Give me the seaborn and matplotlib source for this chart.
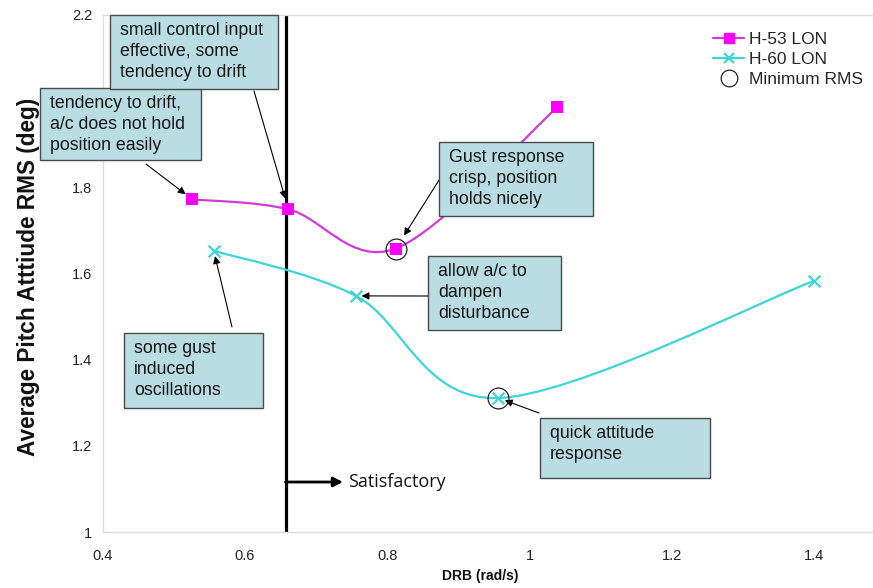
import numpy as np
import pandas as pd
import matplotlib.pyplot as plt
import seaborn as sns
from matplotlib.path import Path
from matplotlib.patches import PathPatch, Rectangle
from matplotlib.lines import Line2D

# data
h53_drb = [0.526, 0.661, 0.812, 1.039]
h53_rms = [1.772, 1.749, 1.658, 1.986]
h60_drb = [0.556, 0.756, 0.956, 1.400]
h60_rms = [1.653, 1.548, 1.311, 1.583]
min_drb = [0.812, 0.956]
min_rms = [1.658, 1.311]
satisfactory_drb = 0.657
satisfactory_rms = 1.116

x_ticks = [0.4, 0.6, 0.8, 1.0, 1.2, 1.4]
x_tick_labels = ["0.4", "0.6", "0.8", "1", "1.2", "1.4"]
y_ticks = [1.0, 1.2, 1.4, 1.6, 1.8, 2.0, 2.2]
y_tick_labels = ["1", "1.2", "1.4", "1.6", "1.8", "2", "2.2"]

H53_LINE, H53_MARK = "#d23cd2", "#ff00ff"
H60_COLOR = "#3cd6d6"
BOX_FACE, BOX_EDGE = "#b9dde2", "#4a4a4a"

W, H = 873, 588

sns.set_style("white")
plt.rcParams["font.family"] = ["Liberation Sans", "DejaVu Sans"]

fig = plt.figure(figsize=(W / 100, H / 100), dpi=100)
ax = fig.add_axes([102.7 / W, 1 - 532 / H, (W - 102.7) / W, (532 - 15) / H])


def fp(x, y):
    # pixel position (from top-left) -> figure fraction
    return (x / W, 1 - y / H)


def smooth_path(xs, ys):
    # Excel-style smoothed line: cubic Bezier through every point
    pts = np.column_stack([xs, ys])
    n = len(pts)
    verts, codes = [pts[0]], [Path.MOVETO]
    for i in range(n - 1):
        p0, p1 = pts[max(i - 1, 0)], pts[i]
        p2, p3 = pts[i + 1], pts[min(i + 2, n - 1)]
        verts += [p1 + (p2 - p0) / 6, p2 - (p3 - p1) / 6, p2]
        codes += [Path.CURVE4] * 3
    return Path(verts, codes)


ax.add_patch(PathPatch(smooth_path(h53_drb, h53_rms), fill=False,
                       edgecolor=H53_LINE, lw=1.6, zorder=3))
ax.add_patch(PathPatch(smooth_path(h60_drb, h60_rms), fill=False,
                       edgecolor=H60_COLOR, lw=1.6, zorder=3))

df53 = pd.DataFrame({"drb": h53_drb, "rms": h53_rms})
df60 = pd.DataFrame({"drb": h60_drb, "rms": h60_rms})
sns.scatterplot(data=df53, x="drb", y="rms", marker="s", s=70, color=H53_MARK,
                edgecolor=H53_MARK, linewidth=0, ax=ax, zorder=4)
sns.scatterplot(data=df60, x="drb", y="rms", marker="x", s=70, color=H60_COLOR,
                linewidth=1.6, ax=ax, zorder=4)
ax.plot(min_drb, min_rms, "o", ms=15, mfc="none", mec="#222222", mew=0.9, zorder=5)
ax.set_xlabel("")
ax.set_ylabel("")

# satisfactory boundary
ax.axvline(satisfactory_drb, color="black", lw=2.3, zorder=2)
ax.annotate("", xy=fp(343, 482), xycoords="figure fraction",
            xytext=(satisfactory_drb, satisfactory_rms), textcoords="data",
            arrowprops=dict(arrowstyle="-|>", color="black", lw=2,
                            mutation_scale=14, shrinkA=0, shrinkB=0))
fig.text(*fp(348, 482), "Satisfactory", fontsize=13, family="Open Sans",
         va="center", ha="left", color="#111111")

# callouts: text, box (left, top, right, bottom) px, arrow tail px, target, shrink
callouts = [
    ("tendency to drift,\na/c does not hold\nposition easily",
     (40, 88, 201, 160), (146, 164), (h53_drb[0], h53_rms[0]), 6),
    ("small control input\neffective, some\ntendency to drift",
     (110, 15, 278, 89), (254, 91), (h53_drb[1], h53_rms[1]), 8),
    ("Gust response\ncrisp, position\nholds nicely",
     (439, 142, 593, 216), (441, 177), (min_drb[0], min_rms[0]), 11),
    ("allow a/c to\ndampen\ndisturbance",
     (428, 256, 561, 330), (428, 296), (h60_drb[1], h60_rms[1]), 4),
    ("some gust\ninduced\noscillations",
     (124, 333, 263, 408), (232, 327), (h60_drb[0], h60_rms[0]), 4),
    ("quick attitude\nresponse",
     (540, 418, 710, 478), (539, 413), (min_drb[1], min_rms[1]), 5),
]
for text, (l, t, r, b), tail, target, shrink in callouts:
    fig.patches.append(Rectangle(fp(l, b), (r - l) / W, (b - t) / H,
                                 transform=fig.transFigure, facecolor=BOX_FACE,
                                 edgecolor=BOX_EDGE, lw=1, zorder=6))
    fig.text(*fp(l + 10, t + 7), text, fontsize=12.8, va="top", ha="left",
             linespacing=1.3, color="#151515", zorder=7)
    ax.annotate("", xy=target, xycoords="data", xytext=fp(*tail),
                textcoords="figure fraction",
                arrowprops=dict(arrowstyle="-|>", color="black", lw=0.8,
                                mutation_scale=11, shrinkA=0, shrinkB=shrink))

ax.set_xlim(0.4, 0.4 + (W - 102.7) / 711.5)
ax.set_ylim(1.0, 2.2)
ax.set_xticks(x_ticks, x_tick_labels)
ax.set_yticks(y_ticks, y_tick_labels)
ax.tick_params(axis="both", labelsize=10.5, colors="#cfcfcf", labelcolor="#222222",
               length=4, width=0.8, direction="out")
ax.tick_params(axis="x", pad=8)
for side in ["left", "bottom", "top"]:
    ax.spines[side].set_color("#dcdcdc")
    ax.spines[side].set_linewidth(1)
ax.spines["right"].set_visible(False)

fig.text(*fp(29, 277), "Average Pitch Atttiude RMS (deg)", rotation=90,
         fontsize=16.3, fontweight="bold", ha="center", va="center", color="#111111")
fig.text(*fp(480, 576), "DRB (rad/s)", fontsize=10, fontweight="bold",
         ha="center", va="center", color="#111111")

handles = [
    Line2D([], [], color=H53_LINE, lw=1.6, marker="s", ms=7, mfc=H53_MARK, mec=H53_MARK),
    Line2D([], [], color=H60_COLOR, lw=1.6, marker="x", ms=7, mew=1.6),
    Line2D([], [], ls="none", marker="o", ms=12, mfc="none", mec="#222222", mew=0.9),
]
fig.legend(handles, ["H-53 LON", "H-60 LON", "Minimum RMS"], loc="upper left",
           bbox_to_anchor=fp(706, 25), frameon=False, fontsize=12.5,
           handlelength=1.8, handletextpad=0.25, labelspacing=0.28, borderaxespad=0)

fig.savefig("out.png", dpi=100)
